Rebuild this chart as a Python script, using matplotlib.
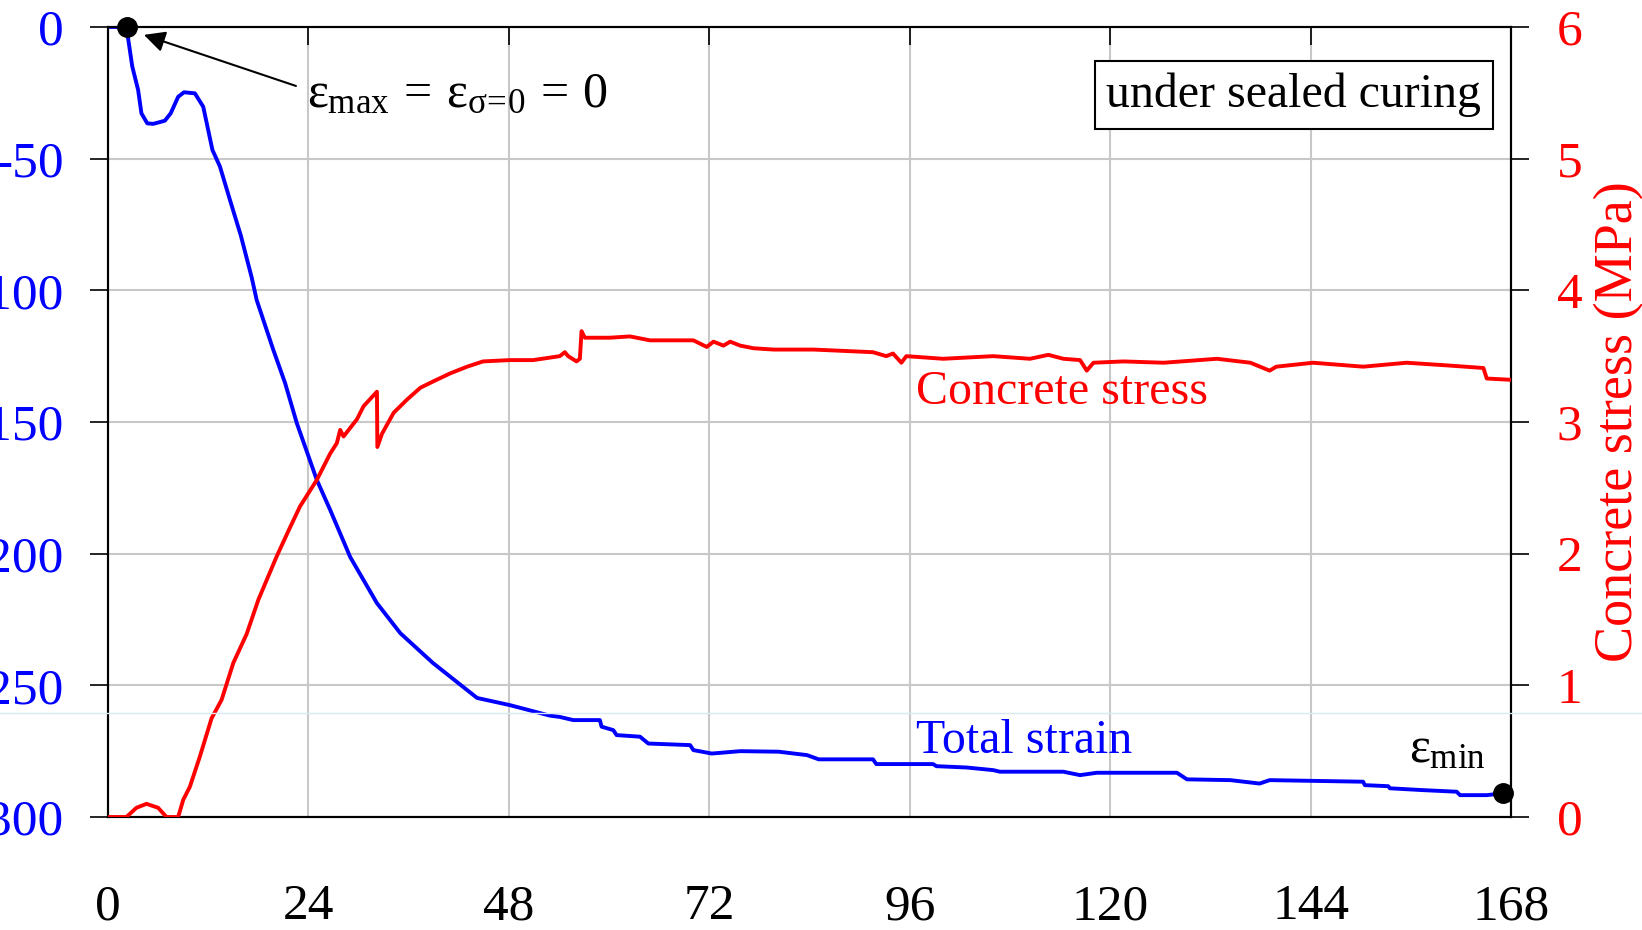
import matplotlib
matplotlib.use("Agg")
import matplotlib.pyplot as plt
from matplotlib.lines import Line2D

plt.rcParams['font.family'] = ['Liberation Serif', 'DejaVu Serif']
plt.rcParams['mathtext.fontset'] = 'custom'
plt.rcParams['mathtext.rm'] = 'Liberation Serif'
plt.rcParams['mathtext.it'] = 'Liberation Serif'
plt.rcParams['axes.unicode_minus'] = False

# total strain (left axis)
strain_t = [0, 2.2, 2.9, 3.6, 4.0, 4.7, 5.4, 6.8, 7.5, 8.4, 9.1, 10.4, 11.4, 12.5, 13.4,
            14.6, 15.9, 17.2, 17.8, 19.8, 21.2, 22.6, 25.0, 26.6, 29.0, 32.2, 35.0, 38.9,
            43.0, 44.2, 48.1, 52.9, 54.1, 55.7, 58.9, 59.1, 60.5, 60.9, 63.7, 64.7, 69.7,
            70.1, 72.3, 75.7, 80.3, 83.7, 85.1, 91.6, 92.0, 98.8, 99.2, 102.8, 106.0, 106.8,
            114.4, 116.4, 118.4, 128.0, 129.2, 134.4, 137.9, 139.1, 150.3, 150.5, 153.3,
            153.5, 157.5, 161.5, 161.9, 165.1, 167.1, 168.3]
strain = [0, 0, -15, -23.9, -32.8, -36.6, -36.8, -35.6, -32.8, -26.5, -24.8, -25.2, -30.3,
          -46.7, -53, -65.7, -79.2, -95.1, -103.7, -122.7, -135.2, -150.4, -172, -183.4,
          -201.3, -218.8, -230.2, -241.5, -251.8, -254.8, -257.5, -261.5, -262, -263.2,
          -263.2, -265.7, -267.0, -268.9, -269.5, -272.1, -272.7, -274.6, -275.9, -275,
          -275.2, -276.5, -278.1, -278.1, -279.9, -279.9, -280.7, -281.2, -282.2, -282.8,
          -282.8, -284.1, -283.2, -283.2, -285.7, -286, -287.3, -286, -286.6, -287.9,
          -288.3, -289.1, -289.8, -290.4, -291.7, -291.7, -291.0, -291.7]

# concrete stress (right axis, MPa)
stress_t = [0, 2.2, 3.4, 4.6, 6.0, 7.0, 8.4, 9.0, 9.8, 11.0, 12.4, 13.6, 15.0, 16.6, 18.0,
            20.2, 21.8, 23.0, 25.0, 26.6, 27.4, 27.8, 28.2, 29.8, 30.6, 32.2, 32.25, 32.8,
            34.2, 35.8, 37.4, 39.0, 41.0, 43.0, 44.9, 48.1, 50.9, 54.1, 54.7, 55.1, 56.1,
            56.5, 56.7, 57.1, 60.1, 62.5, 64.9, 70.1, 71.7, 72.5, 73.7, 74.5, 75.7, 77.3,
            79.7, 84.5, 91.6, 93.2, 94.0, 95.0, 95.6, 100.0, 106.0, 110.4, 112.6, 114.4,
            116.4, 117.2, 118.0, 121.6, 126.4, 132.8, 136.8, 139.1, 139.9, 144.3, 150.3,
            155.5, 160.3, 164.7, 165.1, 168.1]
stress = [0, 0, 0.07, 0.10, 0.07, 0, 0, 0.13, 0.23, 0.46, 0.75, 0.89, 1.17, 1.39, 1.65,
          1.98, 2.20, 2.36, 2.56, 2.76, 2.84, 2.94, 2.89, 3.02, 3.12, 3.23, 2.81, 2.91,
          3.07, 3.17, 3.26, 3.31, 3.37, 3.42, 3.46, 3.47, 3.47, 3.50, 3.53, 3.50, 3.46,
          3.48, 3.69, 3.64, 3.64, 3.65, 3.62, 3.62, 3.57, 3.61, 3.58, 3.61, 3.58, 3.56,
          3.55, 3.55, 3.53, 3.50, 3.52, 3.45, 3.50, 3.48, 3.50, 3.48, 3.51, 3.48, 3.47,
          3.39, 3.45, 3.46, 3.45, 3.48, 3.45, 3.39, 3.42, 3.45, 3.42, 3.45, 3.43, 3.41,
          3.33, 3.32]

x_ticks = [0, 24, 48, 72, 96, 120, 144, 168]
strain_ticks = [0, -50, -100, -150, -200, -250, -300]
stress_ticks = [0, 1, 2, 3, 4, 5, 6]

BLUE = '#0000ff'
RED = '#ff0000'

fig = plt.figure(figsize=(16.42, 9.30), dpi=100)
ax = fig.add_axes([0.0658, 0.1215, 0.8544, 0.8495])
ax2 = ax.twinx()

ax.plot(strain_t, strain, color=BLUE, lw=2.8, zorder=3)
ax2.plot(stress_t, stress, color=RED, lw=2.8, zorder=3)

ax.set_xlim(0, 168)
ax.set_ylim(-300, 0)
ax2.set_ylim(0, 6)
ax.set_xticks(x_ticks)
ax.set_yticks(strain_ticks)
ax2.set_yticks(stress_ticks)

ax.grid(True, color='#c8c8c8', lw=1.5)
ax.set_axisbelow(True)
for a in (ax, ax2):
    for s in a.spines.values():
        s.set_linewidth(1.5)
        s.set_color('black')

ax.tick_params(axis='x', direction='in', length=13, width=1.2, top=True, bottom=False,
               labelsize=37, pad=48, colors='black')
ax.tick_params(axis='y', direction='out', length=13, width=1.2, labelsize=37, pad=19,
               labelcolor=BLUE)
ax2.tick_params(axis='y', direction='out', length=13, width=1.2, labelsize=37, pad=20,
                labelcolor=RED)

ax2.set_ylabel('Concrete stress (MPa)', color=RED, fontsize=39)
ax2.yaxis.set_label_coords(1.059, 0.501)

# markers at strain extremes
ax.plot([2.3], [0], 'o', color='black', ms=14, clip_on=False, zorder=5)
ax.plot([167.1], [-291.0], 'o', color='black', ms=14, clip_on=False, zorder=5)

ax.annotate('', xy=(4.3, -3), xytext=(22.5, -22.4),
            arrowprops=dict(arrowstyle='-|>', color='black', lw=1.5, mutation_scale=32,
                            shrinkA=0, shrinkB=0))
ax.text(23.8, -30.4, r'$ε_{\mathrm{max}}\,=\,ε_{σ\!=\!0}\,=\,0$', fontsize=36,
        ha='left', va='baseline', color='black')
ax.text(155.8, -279.2, r'$ε_{\mathrm{min}}$', fontsize=36, ha='left', va='baseline',
        color='black')

ax2.text(96.8, 3.14, 'Concrete stress', fontsize=34.5, color=RED, ha='left', va='baseline')
ax.text(96.8, -275.7, 'Total strain', fontsize=34.5, color=BLUE, ha='left', va='baseline')

ax.text(0.8453, 0.914, 'under sealed curing', transform=ax.transAxes, fontsize=34.5,
        ha='center', va='center', zorder=6,
        bbox=dict(boxstyle='square,pad=0.25', fc='white', ec='black', lw=1.5))

fig.add_artist(Line2D([0, 1], [0.2333, 0.2333], transform=fig.transFigure,
                      color='#d8eaf0', lw=1, zorder=10))

fig.savefig('out.png', dpi=100)
